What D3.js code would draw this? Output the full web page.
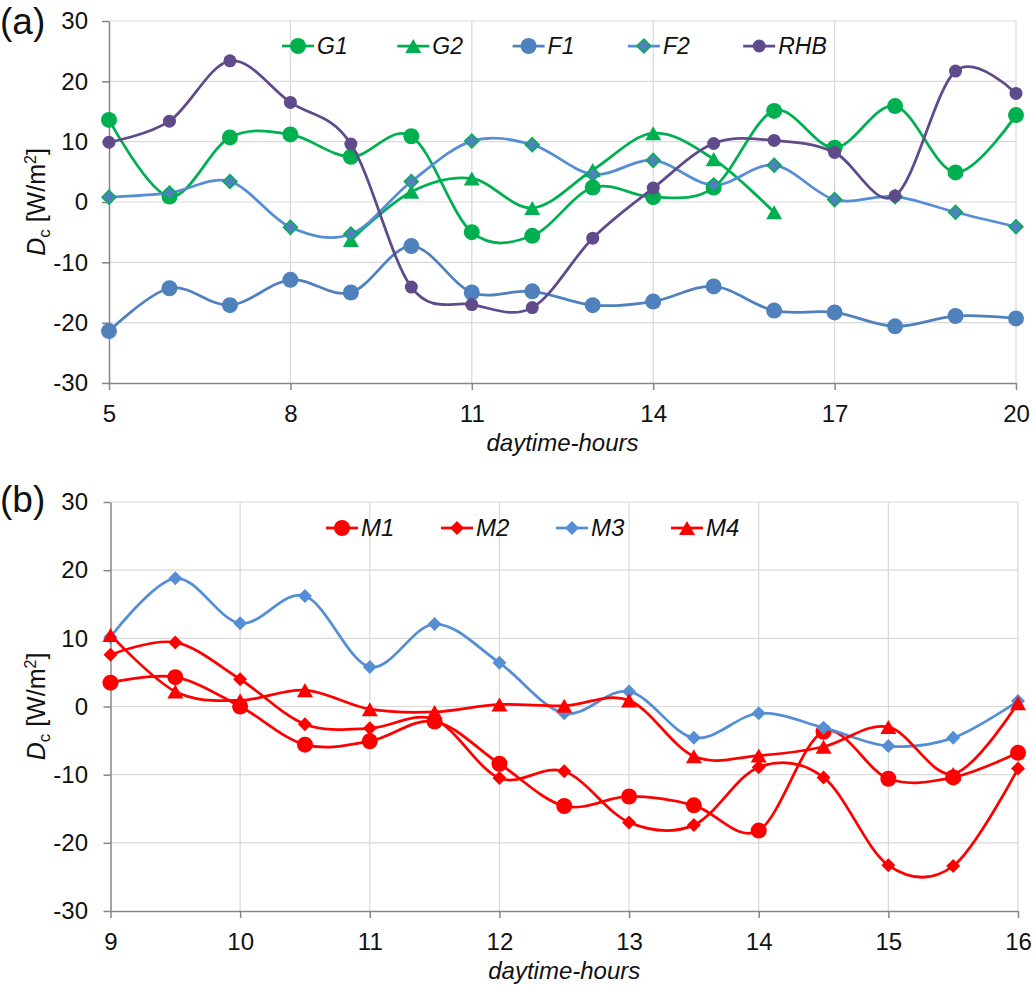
<!DOCTYPE html>
<html>
<head>
<meta charset="utf-8">
<script src="https://cdn.jsdelivr.net/npm/d3@7"></script>
<style>
  body { margin: 0; background: #fff; }
  text { font-family: "Liberation Sans", Arial, sans-serif; }
</style>
</head>
<body>
<svg id="chart" width="1034" height="985"></svg>
<script>
// panel (a) data
var hoursA = [5, 6, 7, 8, 9, 10, 11, 12, 13, 14, 15, 16, 17, 18, 19, 20];
var ticksA = [5, 8, 11, 14, 17, 20];
var G1 = [13.6, 0.9, 10.7, 11.2, 7.5, 10.9, -5.0, -5.6, 2.4, 0.8, 2.4, 15.1, 9.0, 15.9, 4.9, 14.4];
var G2 = [null, null, null, null, -6.3, 1.7, 3.9, -1.0, 5.3, 11.4, 7.1, -1.7, null, null, null, null];
var F1 = [-21.4, -14.3, -17.1, -12.9, -15.0, -7.3, -15.0, -14.8, -17.1, -16.5, -14.0, -18.0, -18.3, -20.6, -18.9, -19.3];
var F2 = [0.8, 1.5, 3.4, -4.2, -5.3, 3.4, 10.1, 9.5, 4.6, 6.9, 2.8, 6.1, 0.4, 0.9, -1.7, -4.1];
var RHB = [9.9, 13.4, 23.4, 16.5, 9.6, -14.1, -17.0, -17.5, -6.0, 2.3, 9.7, 10.2, 8.2, 1.0, 21.7, 18.0];

// panel (b) data
var hoursB = [9, 9.5, 10, 10.5, 11, 11.5, 12, 12.5, 13, 13.5, 14, 14.5, 15, 15.5, 16];
var ticksB = [9, 10, 11, 12, 13, 14, 15, 16];
var M1 = [3.5, 4.3, 0.0, -5.6, -5.1, -2.2, -8.4, -14.6, -13.2, -14.5, -18.2, -3.7, -10.6, -10.4, -6.8];
var M2 = [7.6, 9.4, 4.0, -2.6, -3.2, -1.9, -10.5, -9.5, -17.0, -17.4, -8.9, -10.4, -23.3, -23.4, -9.1];
var M3 = [10.2, 18.8, 12.2, 16.2, 5.8, 12.1, 6.4, -1.0, 2.2, -4.6, -1.0, -3.1, -5.8, -4.6, 0.8];
var M4 = [10.5, 2.2, 0.9, 2.4, -0.4, -0.8, 0.3, 0.1, 0.9, -7.3, -7.2, -5.9, -3.0, -9.9, 0.5];

var yTicks = [-30, -20, -10, 0, 10, 20, 30];

var green = "#00B050", blue = "#4F81BD", lblue = "#558ED5", purple = "#5F4B8B", red = "#FF0000";

var svg = d3.select("#chart");

function marker(sel, m) {
  var s;
  if (m.shape == "circle") {
    s = sel.append("circle").attr("r", m.size);
  } else if (m.shape == "diamond") {
    var h = m.size;
    s = sel.append("path").attr("d", "M0," + (-h) + "L" + h + ",0L0," + h + "L" + (-h) + ",0Z");
  } else {
    var w = m.size, t = m.size * 0.88;
    s = sel.append("path").attr("d", "M0," + (-t) + "L" + w + "," + t + "L" + (-w) + "," + t + "Z");
  }
  s.attr("fill", m.fill).attr("stroke", m.stroke || "none").attr("stroke-width", m.stroke ? 1.5 : 0);
}

function panel(cfg) {
  var x = d3.scaleLinear().domain(cfg.xDomain).range([cfg.left, cfg.right]);
  var y = d3.scaleLinear().domain([-30, 30]).range([cfg.bottom, cfg.top]);
  var g = svg.append("g");
  var plain = function(d) { return String(d); };   // hyphen minus, like the original

  // grid
  g.append("g").selectAll("line").data(yTicks.filter(function(t) { return t > -30; }))
    .enter().append("line")
    .attr("x1", cfg.left).attr("x2", cfg.right)
    .attr("y1", function(d) { return y(d); }).attr("y2", function(d) { return y(d); })
    .attr("stroke", "#D9D9D9").attr("stroke-width", 1.2);
  g.append("g").selectAll("line").data(cfg.xTicks.filter(function(t) { return t > cfg.xDomain[0]; }))
    .enter().append("line")
    .attr("y1", cfg.top).attr("y2", cfg.bottom)
    .attr("x1", function(d) { return x(d); }).attr("x2", function(d) { return x(d); })
    .attr("stroke", "#D9D9D9").attr("stroke-width", 1.2);

  // axes
  var ya = g.append("g").attr("transform", "translate(" + cfg.left + ",0)")
    .call(d3.axisLeft(y).tickValues(yTicks).tickFormat(plain)
      .tickSize(7).tickSizeOuter(0).tickPadding(cfg.yPad));
  var xa = g.append("g").attr("transform", "translate(0," + cfg.bottom + ")")
    .call(d3.axisBottom(x).tickValues(cfg.xTicks).tickFormat(plain)
      .tickSize(7).tickSizeOuter(0).tickPadding(15));
  [ya, xa].forEach(function(a) {
    a.attr("font-size", 24).attr("font-family", "'Liberation Sans', Arial, sans-serif");
    a.selectAll("path,line").attr("stroke", "#868686").attr("stroke-width", 1.5);
    a.selectAll("text").attr("fill", "#111");
  });

  // axis titles
  g.append("text").attr("x", (cfg.left + cfg.right) / 2).attr("y", cfg.bottom + 68)
    .attr("text-anchor", "middle").attr("font-size", 24).attr("font-style", "italic").attr("fill", "#111")
    .text("daytime-hours");
  var yt = g.append("text")
    .attr("transform", "translate(45," + (cfg.top + cfg.bottom) / 2 + ") rotate(-90)")
    .attr("text-anchor", "middle").attr("font-size", 25).attr("fill", "#111");
  yt.append("tspan").attr("font-style", "italic").text("D");
  yt.append("tspan").attr("font-size", 17).attr("dy", 5).text("c");
  yt.append("tspan").attr("dy", -5).text(" [W/m");
  yt.append("tspan").attr("font-size", 16).attr("dy", -9).text("2");
  yt.append("tspan").attr("dy", 9).text("]");

  // panel letter
  g.append("text").attr("x", 0).attr("y", cfg.top + cfg.letterDy)
    .attr("font-size", 37).attr("fill", "#111").text(cfg.letter);

  // series
  var line = d3.line()
    .defined(function(d) { return d.v != null; })
    .x(function(d) { return x(d.h); })
    .y(function(d) { return y(d.v); })
    .curve(d3.curveCardinal.tension(0));

  cfg.series.forEach(function(s) {
    var pts = cfg.hours.map(function(h, i) { return { h: h, v: s.values[i] }; });
    var sg = g.append("g");
    sg.append("path").datum(pts).attr("d", line)
      .attr("fill", "none").attr("stroke", s.color).attr("stroke-width", 2.75);
    sg.selectAll("g").data(pts.filter(function(d) { return d.v != null; }))
      .enter().append("g")
      .attr("transform", function(d) { return "translate(" + x(d.h) + "," + y(d.v) + ")"; })
      .each(function() { marker(d3.select(this), s.marker); });
  });

  // legend
  cfg.series.forEach(function(s, i) {
    var lx = cfg.legX + i * cfg.legStep;
    var lg = g.append("g").attr("transform", "translate(" + lx + "," + cfg.legY + ")");
    lg.append("line").attr("x1", 0).attr("x2", 32).attr("stroke", s.color).attr("stroke-width", 2.75);
    lg.append("g").attr("transform", "translate(16,0)").each(function() { marker(d3.select(this), s.marker); });
    lg.append("text").attr("x", 35).attr("y", 8)
      .attr("font-size", cfg.legFont).attr("font-style", "italic").attr("fill", "#111").text(s.name);
  });
}

panel({
  letter: "(a)", letterDy: 13,
  xDomain: [5, 20], left: 109, right: 1016, top: 21, bottom: 383, yPad: 14,
  hours: hoursA, xTicks: ticksA,
  legX: 282, legStep: 115.3, legY: 46, legFont: 23,
  series: [
    { name: "G1", values: G1, color: green, marker: { shape: "circle", size: 8, fill: green } },
    { name: "G2", values: G2, color: green, marker: { shape: "triangle", size: 8, fill: green } },
    { name: "F1", values: F1, color: blue, marker: { shape: "circle", size: 8, fill: blue } },
    { name: "F2", values: F2, color: lblue, marker: { shape: "diamond", size: 7, fill: blue, stroke: green } },
    { name: "RHB", values: RHB, color: purple, marker: { shape: "circle", size: 6.5, fill: purple } }
  ]
});

panel({
  letter: "(b)", letterDy: 10,
  xDomain: [9, 16], left: 110.5, right: 1018, top: 502, bottom: 911, yPad: 15.5,
  hours: hoursB, xTicks: ticksB,
  legX: 326, legStep: 115, legY: 528, legFont: 24,
  series: [
    { name: "M1", values: M1, color: red, marker: { shape: "circle", size: 8, fill: red } },
    { name: "M2", values: M2, color: red, marker: { shape: "diamond", size: 7, fill: red } },
    { name: "M3", values: M3, color: lblue, marker: { shape: "diamond", size: 7, fill: lblue } },
    { name: "M4", values: M4, color: red, marker: { shape: "triangle", size: 8, fill: red } }
  ]
});
</script>
</body>
</html>
